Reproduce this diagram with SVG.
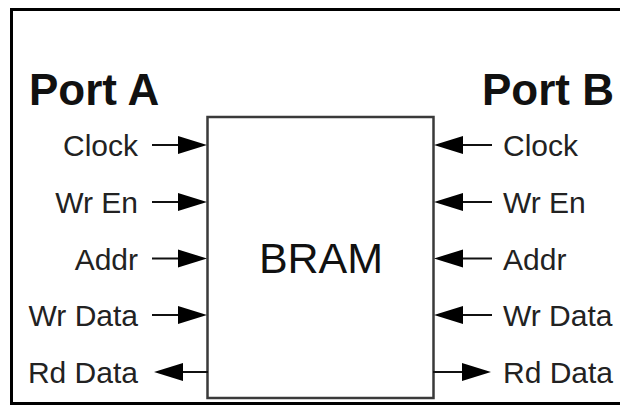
<svg xmlns="http://www.w3.org/2000/svg" width="620" height="406" viewBox="0 0 620 406">
  <defs>
    <style>
      .frame { fill: none; stroke: #000; stroke-width: 3; }
      .block { fill: #fff; stroke: #3a3a3a; stroke-width: 2.5; }
      .wire { fill: none; stroke: #111; stroke-width: 2; }
      .head { fill: #000; }
      .title { font-family: "Liberation Sans", Arial, sans-serif; font-weight: bold; font-size: 44px; fill: #111; }
      .sig { font-family: "Liberation Sans", Arial, sans-serif; font-size: 30px; fill: #222; }
      .name { font-family: "Liberation Sans", Arial, sans-serif; font-size: 43px; fill: #111; text-anchor: middle; }
    </style>
    <!-- arrowhead pointing right, tip at origin -->
    <polygon id="headR" class="head" points="0,0 -29,-9 -29,9"/>
    <!-- arrowhead pointing left, tip at origin -->
    <polygon id="headL" class="head" points="0,0 29,-9 29,9"/>
  </defs>

  <rect width="620" height="406" fill="#fff"/>

  <!-- outer frame, open on the right -->
  <path class="frame" d="M622,9.5 H11.5 V403.5 H622"/>

  <!-- port headings -->
  <text class="title" x="29" y="105">Port A</text>
  <text class="title" x="482" y="105">Port B</text>

  <!-- memory block -->
  <g id="bram">
    <rect class="block" x="207.5" y="117" width="226" height="281"/>
    <text class="name" x="321" y="273">BRAM</text>
  </g>

  <!-- signal labels, port A -->
  <g id="portA-labels" class="sig" text-anchor="end">
    <text x="138" y="156">Clock</text>
    <text x="138" y="213">Wr En</text>
    <text x="138" y="269.5">Addr</text>
    <text x="138" y="326">Wr Data</text>
    <text x="138" y="383">Rd Data</text>
  </g>

  <!-- signal labels, port B -->
  <g id="portB-labels" class="sig">
    <text x="503" y="156">Clock</text>
    <text x="503" y="213">Wr En</text>
    <text x="503" y="269.5">Addr</text>
    <text x="503" y="326">Wr Data</text>
    <text x="503" y="383">Rd Data</text>
  </g>

  <!-- connectors -->
  <g id="connectors">
    <!-- port A inputs -->
    <line class="wire" x1="152" y1="145" x2="180" y2="145"/><use href="#headR" x="207" y="145"/>
    <line class="wire" x1="152" y1="202" x2="180" y2="202"/><use href="#headR" x="207" y="202"/>
    <line class="wire" x1="152" y1="258.5" x2="180" y2="258.5"/><use href="#headR" x="207" y="258.5"/>
    <line class="wire" x1="152" y1="315" x2="180" y2="315"/><use href="#headR" x="207" y="315"/>
    <!-- port A output -->
    <line class="wire" x1="180" y1="372" x2="208" y2="372"/><use href="#headL" x="154" y="372"/>

    <!-- port B inputs -->
    <line class="wire" x1="462" y1="145" x2="492" y2="145"/><use href="#headL" x="434" y="145"/>
    <line class="wire" x1="462" y1="202" x2="492" y2="202"/><use href="#headL" x="434" y="202"/>
    <line class="wire" x1="462" y1="258.5" x2="492" y2="258.5"/><use href="#headL" x="434" y="258.5"/>
    <line class="wire" x1="462" y1="315" x2="492" y2="315"/><use href="#headL" x="434" y="315"/>
    <!-- port B output -->
    <line class="wire" x1="433" y1="372" x2="464" y2="372"/><use href="#headR" x="491" y="372"/>
  </g>
</svg>
